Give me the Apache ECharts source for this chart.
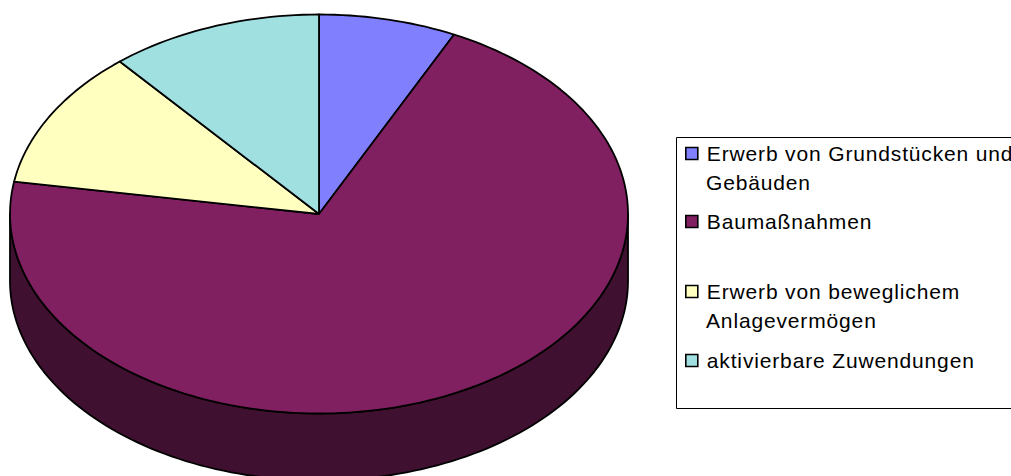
<!DOCTYPE html>
<html><head><meta charset="utf-8">
<style>html,body{margin:0;padding:0;background:#fff;overflow:hidden}#c{width:1011px;height:476px}#c svg text{letter-spacing:0.85px}</style>
<script src="https://cdn.jsdelivr.net/npm/echarts@6/dist/echarts.min.js"></script>
</head><body><div id="c"></div>
<script>
const categories = ['Erwerb von Grundstücken und Gebäuden', 'Baumaßnahmen', 'Erwerb von beweglichem Anlagevermögen', 'aktivierbare Zuwendungen'];
const legendFirstLines = ['Erwerb von Grundstücken und', 'Baumaßnahmen', 'Erwerb von beweglichem', 'aktivierbare Zuwendungen'];
const legendSecondLines = ['Gebäuden', '', 'Anlagevermögen', ''];
const shares = [7.2, 70.4, 11.25, 11.15];
const colors = ['#8080FF', '#802060', '#FFFFC0', '#A0E0E0'];
const sideColors = ['#404080', '#401030', '#808060', '#507070'];
const legendTops = [143, 211, 281, 350];
const secondLineTops = [172, 0, 309.5, 0];

const cx = 319, cy = 214, rx = 309, ry = 199.5, depth = 67;
const total = shares.reduce((a, b) => a + b, 0);
const starts = [];
shares.reduce((acc, v, i) => { starts[i] = acc; return acc + v; }, 0);
const pt = (deg, dy) => {
  const r = deg * Math.PI / 180;
  return [cx + rx * Math.sin(r), cy + (dy || 0) - ry * Math.cos(r)];
};
const arc = (a, b, dy) => {
  const n = Math.max(2, Math.ceil((b - a) / 1.5)), out = [];
  for (let i = 0; i <= n; i++) out.push(pt(a + (b - a) * i / n, dy));
  return out;
};
const stroke = { stroke: '#000', lineWidth: 1.8, lineJoin: 'round' };

function sideItem(i) {
  return function () {
    const a0 = starts[i] / total * 360, a1 = (starts[i] + shares[i]) / total * 360;
    const a = Math.max(a0, 90), b = Math.min(a1, 270);
    if (b <= a) return { type: 'group', children: [] };
    const pts = arc(a, b, 0).concat(arc(a, b, depth).reverse());
    return { type: 'polygon', shape: { points: pts }, style: Object.assign({ fill: sideColors[i] }, stroke) };
  };
}
function topItem(i) {
  return function () {
    const a0 = starts[i] / total * 360, a1 = (starts[i] + shares[i]) / total * 360;
    const pts = [[cx, cy]].concat(arc(a0, a1, 0));
    return { type: 'polygon', shape: { points: pts }, style: Object.assign({ fill: colors[i] }, stroke) };
  };
}

const series = [];
categories.forEach((c, i) => series.push({
  type: 'custom', name: c + ' (Seite)', coordinateSystem: 'none', silent: true, z: 1,
  data: [shares[i]], renderItem: sideItem(i), animation: false
}));
categories.forEach((c, i) => series.push({
  type: 'custom', name: c, coordinateSystem: 'none', silent: true, z: 2,
  itemStyle: { color: colors[i] },
  data: [shares[i]], renderItem: topItem(i), animation: false
}));

const legends = categories.map((c, i) => ({
  data: [c], left: 685, top: legendTops[i], padding: 0, itemWidth: 12, itemHeight: 12, itemGap: 10,
  selectedMode: false, icon: 'rect', orient: 'vertical',
  itemStyle: { borderColor: '#000', borderWidth: 1.6 },
  formatter: () => legendFirstLines[i],
  textStyle: { fontFamily: '"Liberation Sans"', fontSize: 21, color: '#000', padding: [0, 0, 0, 4] }
}));

const graphics = [{
  type: 'rect', z: 0, shape: { x: 676.5, y: 137.5, width: 340, height: 271 },
  style: { fill: '#fff', stroke: '#000', lineWidth: 1 }
}];
legendSecondLines.forEach((t, i) => {
  if (t) graphics.push({
    type: 'text', x: 706, y: secondLineTops[i], z: 5,
    style: { text: t, fontFamily: '"Liberation Sans"', fontSize: 21, fill: '#000' }
  });
});

const chart = echarts.init(document.getElementById('c'), null, { renderer: 'svg' });
chart.setOption({ animation: false, backgroundColor: '#fff', legend: legends, graphic: graphics, series });
</script></body></html>
